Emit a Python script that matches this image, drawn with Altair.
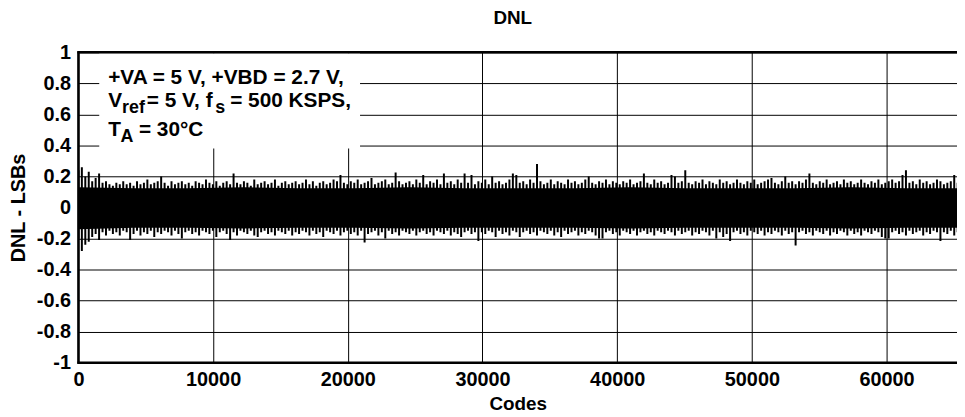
import altair as alt
import pandas as pd

# ---------------- data ----------------
bin_step = 256  # codes per bin
dnl_max = [
    0.24, 0.26, 0.20, 0.23, 0.17, 0.19, 0.22, 0.16, 0.17, 0.15, 0.14, 0.16, 0.15, 0.17, 0.15, 0.16,
    0.14, 0.17, 0.15, 0.16, 0.18, 0.15, 0.16, 0.17, 0.20, 0.16, 0.14, 0.17, 0.15, 0.16, 0.17, 0.15,
    0.16, 0.14, 0.17, 0.16, 0.15, 0.18, 0.16, 0.15, 0.17, 0.14, 0.16, 0.17, 0.15, 0.22, 0.16, 0.15,
    0.17, 0.16, 0.14, 0.18, 0.15, 0.16, 0.17, 0.15, 0.16, 0.18, 0.14, 0.16, 0.17, 0.15, 0.16, 0.17,
    0.15, 0.16, 0.18, 0.15, 0.17, 0.14, 0.16, 0.17, 0.15, 0.16, 0.18, 0.17, 0.21, 0.16, 0.15, 0.17,
    0.16, 0.18, 0.15, 0.16, 0.17, 0.19, 0.15, 0.16, 0.17, 0.18, 0.15, 0.16, 0.225, 0.17, 0.15, 0.16,
    0.17, 0.15, 0.18, 0.16, 0.21, 0.15, 0.17, 0.16, 0.18, 0.15, 0.22, 0.16, 0.17, 0.15, 0.18, 0.16,
    0.22, 0.16, 0.21, 0.15, 0.17, 0.16, 0.18, 0.15, 0.20, 0.16, 0.17, 0.15, 0.16, 0.18, 0.22, 0.21,
    0.16, 0.17, 0.15, 0.18, 0.16, 0.28, 0.17, 0.15, 0.16, 0.18, 0.15, 0.17, 0.16, 0.15, 0.18, 0.16,
    0.17, 0.15, 0.16, 0.18, 0.20, 0.16, 0.15, 0.17, 0.16, 0.18, 0.15, 0.17, 0.16, 0.15, 0.17, 0.16,
    0.18, 0.15, 0.16, 0.17, 0.22, 0.16, 0.15, 0.18, 0.16, 0.17, 0.15, 0.16, 0.21, 0.20, 0.16, 0.17,
    0.24, 0.16, 0.15, 0.17, 0.16, 0.18, 0.15, 0.17, 0.16, 0.15, 0.18, 0.16, 0.17, 0.15, 0.16, 0.18,
    0.16, 0.15, 0.17, 0.16, 0.18, 0.15, 0.16, 0.17, 0.18, 0.19, 0.16, 0.15, 0.17, 0.20, 0.16, 0.17,
    0.15, 0.17, 0.16, 0.18, 0.22, 0.16, 0.15, 0.17, 0.16, 0.18, 0.15, 0.16, 0.17, 0.15, 0.18, 0.16,
    0.17, 0.15, 0.16, 0.18, 0.16, 0.15, 0.17, 0.16, 0.18, 0.15, 0.16, 0.17, 0.18, 0.16, 0.17, 0.21,
    0.24, 0.16, 0.17, 0.15, 0.18, 0.16, 0.17, 0.15, 0.16, 0.18, 0.17, 0.15, 0.16, 0.17, 0.21, 0.16,
]
dnl_min = [
    -0.20, -0.28, -0.24, -0.22, -0.19, -0.17, -0.21, -0.16, -0.18, -0.15, -0.17, -0.16, -0.18, -0.15, -0.16, -0.21,
    -0.17, -0.15, -0.18, -0.16, -0.17, -0.15, -0.19, -0.16, -0.17, -0.15, -0.16, -0.18, -0.15, -0.17, -0.20, -0.16,
    -0.15, -0.17, -0.16, -0.18, -0.15, -0.16, -0.17, -0.15, -0.19, -0.16, -0.15, -0.17, -0.21, -0.16, -0.18, -0.15,
    -0.16, -0.17, -0.15, -0.18, -0.19, -0.16, -0.15, -0.17, -0.16, -0.18, -0.15, -0.16, -0.17, -0.15, -0.18, -0.16,
    -0.17, -0.15, -0.16, -0.18, -0.15, -0.17, -0.16, -0.19, -0.15, -0.16, -0.17, -0.15, -0.18, -0.16, -0.15, -0.17,
    -0.16, -0.18, -0.15, -0.225, -0.17, -0.16, -0.15, -0.18, -0.16, -0.20, -0.15, -0.17, -0.16, -0.18, -0.15, -0.16,
    -0.17, -0.15, -0.18, -0.16, -0.15, -0.17, -0.16, -0.18, -0.15, -0.16, -0.17, -0.15, -0.18, -0.16, -0.17, -0.19,
    -0.16, -0.15, -0.17, -0.16, -0.215, -0.16, -0.17, -0.15, -0.16, -0.19, -0.15, -0.17, -0.16, -0.18, -0.15, -0.16,
    -0.19, -0.16, -0.15, -0.17, -0.16, -0.18, -0.15, -0.16, -0.17, -0.15, -0.18, -0.16, -0.19, -0.15, -0.17, -0.16,
    -0.15, -0.18, -0.16, -0.17, -0.15, -0.16, -0.18, -0.20, -0.20, -0.16, -0.15, -0.17, -0.16, -0.18, -0.15, -0.16,
    -0.17, -0.15, -0.18, -0.16, -0.15, -0.17, -0.16, -0.18, -0.15, -0.16, -0.17, -0.15, -0.16, -0.18, -0.15, -0.17,
    -0.16, -0.15, -0.18, -0.16, -0.17, -0.15, -0.16, -0.18, -0.15, -0.20, -0.16, -0.19, -0.17, -0.215, -0.16, -0.15,
    -0.17, -0.16, -0.18, -0.15, -0.16, -0.17, -0.15, -0.18, -0.16, -0.17, -0.15, -0.16, -0.18, -0.15, -0.17, -0.16,
    -0.245, -0.16, -0.15, -0.17, -0.16, -0.18, -0.15, -0.16, -0.17, -0.15, -0.18, -0.16, -0.17, -0.15, -0.16, -0.18,
    -0.15, -0.17, -0.16, -0.18, -0.15, -0.16, -0.17, -0.15, -0.16, -0.19, -0.20, -0.20, -0.16, -0.15, -0.17, -0.16,
    -0.18, -0.15, -0.17, -0.16, -0.15, -0.18, -0.16, -0.17, -0.15, -0.16, -0.215, -0.16, -0.17, -0.15, -0.18, -0.16,
]
core_codes = [0, 4096, 8192, 12288, 16384, 20480, 24576, 28672, 32768,
              36864, 40960, 45056, 49152, 53248, 57344, 61440, 65536]
core_hi = [0.13, 0.125, 0.125, 0.13, 0.125, 0.125, 0.13, 0.125, 0.125,
           0.125, 0.13, 0.125, 0.125, 0.125, 0.13, 0.125, 0.125]
core_lo = [-0.14, -0.13, -0.13, -0.135, -0.13, -0.13, -0.135, -0.13, -0.13,
           -0.13, -0.135, -0.13, -0.13, -0.13, -0.135, -0.13, -0.13]

x_ticks = [0, 10000, 20000, 30000, 40000, 50000, 60000]
y_ticks = [-1, -0.8, -0.6, -0.4, -0.2, 0, 0.2, 0.4, 0.6, 0.8, 1]

title_text = "DNL"
x_title = "Codes"
y_title = "DNL - LSBs"

# ---------------- tables ----------------
noise = pd.DataFrame({
    "code": [i * bin_step for i in range(len(dnl_max))],
    "hi": dnl_max,
    "lo": dnl_min,
})
core = pd.DataFrame({"code": core_codes, "hi": core_hi, "lo": core_lo})

FONT = "Liberation Sans"
W, H = 886, 313
xscale = alt.Scale(domain=[0, 65230], nice=False, zero=False)
yscale = alt.Scale(domain=[-1, 1], nice=False, zero=False)

xaxis = alt.Axis(values=x_ticks, tickCount=20, format="d", grid=True, gridColor="black",
                 gridWidth=1, domain=False, ticks=False, labelFont=FONT,
                 labelFontWeight="bold", labelFontSize=20, labelColor="black",
                 labelPadding=7, labelFlush=False, labelOverlap=False, title=x_title,
                 titleFont=FONT, titleFontWeight="bold", titleFontSize=19,
                 titleColor="black", titlePadding=5)
yaxis = alt.Axis(values=y_ticks, tickCount=20, grid=True, gridColor="black", gridWidth=1,
                 domain=False, ticks=False, labelFont=FONT, labelFontWeight="bold",
                 labelFontSize=20, labelColor="black", labelPadding=8, labelFlush=False,
                 labelOverlap=False,
                 labelExpr="(datum.value < -0.001 ? '-' : '') + format(abs(datum.value), '.1~f')",
                 title=y_title, titleFont=FONT, titleFontWeight="bold", titleFontSize=20,
                 titleColor="black", titlePadding=8)

core_layer = alt.Chart(core).mark_area(color="black", clip=True, interpolate="linear").encode(
    x=alt.X("code:Q", scale=xscale, axis=xaxis),
    y=alt.Y("lo:Q", scale=yscale, axis=yaxis),
    y2="hi:Q",
)
spikes = alt.Chart(noise).mark_rule(color="black", strokeWidth=2, clip=True).encode(
    x=alt.X("code:Q", scale=xscale, axis=xaxis),
    y=alt.Y("lo:Q", scale=yscale, axis=yaxis),
    y2="hi:Q",
)

one = pd.DataFrame({"k": [0]})
box = alt.Chart(one).mark_rect(fill="white").encode(
    x=alt.value(21), x2=alt.value(284), y=alt.value(1), y2=alt.value(97))


def txt(s, x, y, size=21):
    return alt.Chart(one).mark_text(
        text=s, font=FONT, fontWeight="bold", fontSize=size, color="black",
        align="left", baseline="alphabetic").encode(x=alt.value(x), y=alt.value(y))


ann = [
    txt("+VA = 5 V, +VBD = 2.7 V,", 30, 32),
    txt("V", 30, 55), txt("ref", 44, 61.5, 18), txt("= 5 V, f", 69, 55),
    txt("s", 138, 61.5, 18), txt("= 500 KSPS,", 153, 55),
    txt("T", 30, 84), txt("A", 42.5, 90.5, 18), txt("= 30°C", 61, 84),
]

title = alt.Chart(one).mark_text(
    text=title_text, font=FONT, fontWeight="bold", fontSize=19, color="black",
    align="center", baseline="alphabetic").encode(x=alt.value(438), y=alt.value(-29))

border_top = alt.Chart(one).mark_rule(color="black", strokeWidth=2.5).encode(
    x=alt.value(-1), x2=alt.value(W), y=alt.value(0))
border_left = alt.Chart(one).mark_rule(color="black", strokeWidth=2.5).encode(
    x=alt.value(0), y=alt.value(-1), y2=alt.value(H + 1))
border_bottom = alt.Chart(one).mark_rule(color="black", strokeWidth=2.5).encode(
    x=alt.value(-1), x2=alt.value(W), y=alt.value(H))

chart = alt.layer(
    core_layer, spikes, box, *ann, title, border_top, border_left, border_bottom
).properties(
    width=W, height=H,
    autosize=alt.AutoSizeParams(type="none"),
    padding={"left": 71, "top": 43, "right": 0, "bottom": 50},
).configure_view(stroke=None).configure(background="white")

chart.save("out.html", embed_options={"renderer": "svg", "actions": False})
